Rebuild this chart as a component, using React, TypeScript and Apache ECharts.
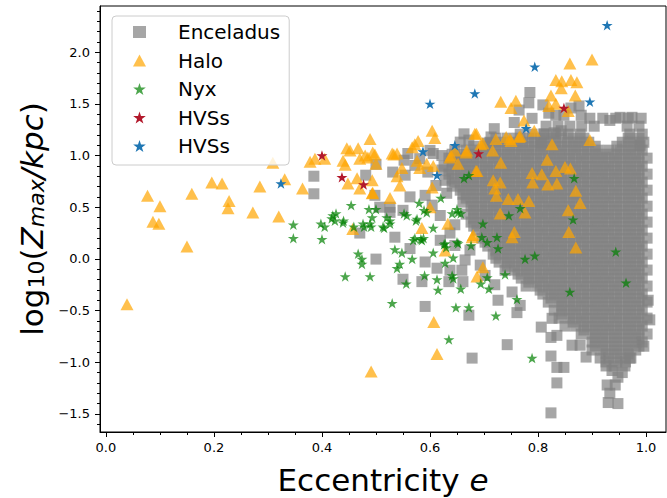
import React, { useEffect, useRef } from "react";
import * as echarts from "echarts";

// Axis ranges and tick positions
const X_MIN = -0.011;
const X_MAX = 1.037;
const Y_MIN = -1.675;
const Y_MAX = 2.447;
const xMajor = [0, 0.2, 0.4, 0.6, 0.8, 1.0];
const xMinor = [0.05, 0.1, 0.15, 0.25, 0.3, 0.35, 0.45, 0.5, 0.55, 0.65, 0.7, 0.75, 0.85, 0.9, 0.95];
const yMajor = [-1.5, -1.0, -0.5, 0, 0.5, 1.0, 1.5, 2.0];
const yMinor = [
  -1.6, -1.4, -1.3, -1.2, -1.1, -0.9, -0.8, -0.7, -0.6, -0.4, -0.3, -0.2, -0.1,
  0.1, 0.2, 0.3, 0.4, 0.6, 0.7, 0.8, 0.9, 1.1, 1.2, 1.3, 1.4, 1.6, 1.7, 1.8, 1.9,
  2.1, 2.2, 2.3, 2.4,
];

// Enceladus: the dense body of the cloud, one row of eccentricities per log10(Zmax)
const enceladusCore: [number, number[]][] = [
  [1.361, [0.896, 0.92, 0.944, 0.967, 0.991]],
  [1.284, [0.815, 0.837, 0.859, 0.881, 0.904, 0.965, 0.987]],
  [1.207, [0.767, 0.789, 0.811, 0.833, 0.856, 0.878, 0.97, 0.993]],
  [1.168, [0.722, 0.743, 0.763, 0.783, 0.804, 0.824, 0.844, 0.865, 0.885, 0.967, 0.987]],
  [1.129, [0.711, 0.731, 0.752, 0.772, 0.793, 0.813, 0.833, 0.854, 0.874, 0.894, 0.956, 0.976, 0.996]],
  [1.09, [0.681, 0.702, 0.722, 0.743, 0.763, 0.783, 0.804, 0.824, 0.844, 0.865, 0.885, 0.906, 0.946, 0.967, 0.987]],
  [1.052, [0.646, 0.667, 0.687, 0.707, 0.728, 0.748, 0.769, 0.789, 0.809, 0.83, 0.85, 0.87, 0.891, 0.911, 0.931, 0.952, 0.972, 0.993]],
  [1.013, [0.641, 0.661, 0.681, 0.702, 0.722, 0.743, 0.763, 0.783, 0.804, 0.824, 0.844, 0.865, 0.885, 0.906, 0.926, 0.946, 0.967, 0.987]],
  [0.975, [0.635, 0.656, 0.676, 0.696, 0.717, 0.737, 0.757, 0.778, 0.798, 0.819, 0.839, 0.859, 0.88, 0.9, 0.92, 0.941, 0.961, 0.981, 1.002]],
  [0.936, [0.641, 0.661, 0.681, 0.702, 0.722, 0.743, 0.763, 0.783, 0.804, 0.824, 0.844, 0.865, 0.885, 0.906, 0.926, 0.946, 0.967, 0.987]],
  [0.897, [0.626, 0.646, 0.667, 0.687, 0.707, 0.728, 0.748, 0.769, 0.789, 0.809, 0.83, 0.85, 0.87, 0.891, 0.911, 0.931, 0.952, 0.972, 0.993]],
  [0.858, [0.641, 0.661, 0.681, 0.702, 0.722, 0.743, 0.763, 0.783, 0.804, 0.824, 0.844, 0.865, 0.885, 0.906, 0.926, 0.946, 0.967, 0.987]],
  [0.82, [0.635, 0.656, 0.676, 0.696, 0.717, 0.737, 0.757, 0.778, 0.798, 0.819, 0.839, 0.859, 0.88, 0.9, 0.92, 0.941, 0.961, 0.981, 1.002]],
  [0.781, [0.641, 0.661, 0.681, 0.702, 0.722, 0.743, 0.763, 0.783, 0.804, 0.824, 0.844, 0.865, 0.885, 0.906, 0.926, 0.946, 0.967, 0.987]],
  [0.743, [0.646, 0.667, 0.687, 0.707, 0.728, 0.748, 0.769, 0.789, 0.809, 0.83, 0.85, 0.87, 0.891, 0.911, 0.931, 0.952, 0.972, 0.993]],
  [0.704, [0.641, 0.661, 0.681, 0.702, 0.722, 0.743, 0.763, 0.783, 0.804, 0.824, 0.844, 0.865, 0.885, 0.906, 0.926, 0.946, 0.967, 0.987]],
  [0.665, [0.656, 0.676, 0.696, 0.717, 0.737, 0.757, 0.778, 0.798, 0.819, 0.839, 0.859, 0.88, 0.9, 0.92, 0.941, 0.961, 0.981, 1.002]],
  [0.626, [0.661, 0.681, 0.702, 0.722, 0.743, 0.763, 0.783, 0.804, 0.824, 0.844, 0.865, 0.885, 0.906, 0.926, 0.946, 0.967, 0.987]],
  [0.588, [0.667, 0.687, 0.707, 0.728, 0.748, 0.769, 0.789, 0.809, 0.83, 0.85, 0.87, 0.891, 0.911, 0.931, 0.952, 0.972, 0.993]],
  [0.549, [0.661, 0.681, 0.702, 0.722, 0.743, 0.763, 0.783, 0.804, 0.824, 0.844, 0.865, 0.885, 0.906, 0.926, 0.946, 0.967, 0.987]],
  [0.51, [0.676, 0.696, 0.717, 0.737, 0.757, 0.778, 0.798, 0.819, 0.839, 0.859, 0.88, 0.9, 0.92, 0.941, 0.961, 0.981, 1.002]],
  [0.471, [0.681, 0.702, 0.722, 0.743, 0.763, 0.783, 0.804, 0.824, 0.844, 0.865, 0.885, 0.906, 0.926, 0.946, 0.967, 0.987]],
  [0.433, [0.667, 0.687, 0.707, 0.728, 0.748, 0.769, 0.789, 0.809, 0.83, 0.85, 0.87, 0.891, 0.911, 0.931, 0.952, 0.972, 0.993]],
  [0.394, [0.681, 0.702, 0.722, 0.743, 0.763, 0.783, 0.804, 0.824, 0.844, 0.865, 0.885, 0.906, 0.926, 0.946, 0.967, 0.987]],
  [0.356, [0.676, 0.696, 0.717, 0.737, 0.757, 0.778, 0.798, 0.819, 0.839, 0.859, 0.88, 0.9, 0.92, 0.941, 0.961, 0.981, 1.002]],
  [0.317, [0.681, 0.702, 0.722, 0.743, 0.763, 0.783, 0.804, 0.824, 0.844, 0.865, 0.885, 0.906, 0.926, 0.946, 0.967, 0.987]],
  [0.278, [0.687, 0.707, 0.728, 0.748, 0.769, 0.789, 0.809, 0.83, 0.85, 0.87, 0.891, 0.911, 0.931, 0.952, 0.972, 0.993]],
  [0.239, [0.702, 0.722, 0.743, 0.763, 0.783, 0.804, 0.824, 0.844, 0.865, 0.885, 0.906, 0.926, 0.946, 0.967, 0.987]],
  [0.201, [0.696, 0.717, 0.737, 0.757, 0.778, 0.798, 0.819, 0.839, 0.859, 0.88, 0.9, 0.92, 0.941, 0.961, 0.981, 1.002]],
  [0.162, [0.702, 0.722, 0.743, 0.763, 0.783, 0.804, 0.824, 0.844, 0.865, 0.885, 0.906, 0.926, 0.946, 0.967, 0.987]],
  [0.124, [0.707, 0.728, 0.748, 0.769, 0.789, 0.809, 0.83, 0.85, 0.87, 0.891, 0.911, 0.931, 0.952, 0.972, 0.993]],
  [0.085, [0.722, 0.743, 0.763, 0.783, 0.804, 0.824, 0.844, 0.865, 0.885, 0.906, 0.926, 0.946, 0.967, 0.987]],
  [0.046, [0.717, 0.737, 0.757, 0.778, 0.798, 0.819, 0.839, 0.859, 0.88, 0.9, 0.92, 0.941, 0.961, 0.981, 1.002]],
  [0.007, [0.722, 0.743, 0.763, 0.783, 0.804, 0.824, 0.844, 0.865, 0.885, 0.906, 0.926, 0.946, 0.967, 0.987]],
  [-0.031, [0.728, 0.748, 0.769, 0.789, 0.809, 0.83, 0.85, 0.87, 0.891, 0.911, 0.931, 0.952, 0.972, 0.993]],
  [-0.07, [0.743, 0.763, 0.783, 0.804, 0.824, 0.844, 0.865, 0.885, 0.906, 0.926, 0.946, 0.967, 0.987]],
  [-0.108, [0.757, 0.778, 0.798, 0.819, 0.839, 0.859, 0.88, 0.9, 0.92, 0.941, 0.961, 0.981, 1.002]],
  [-0.147, [0.763, 0.783, 0.804, 0.824, 0.844, 0.865, 0.885, 0.906, 0.926, 0.946, 0.967, 0.987]],
  [-0.186, [0.769, 0.789, 0.809, 0.83, 0.85, 0.87, 0.891, 0.911, 0.931, 0.952, 0.972, 0.993]],
  [-0.224, [0.783, 0.804, 0.824, 0.844, 0.865, 0.885, 0.906, 0.926, 0.946, 0.967, 0.987]],
  [-0.263, [0.778, 0.798, 0.819, 0.839, 0.859, 0.88, 0.9, 0.92, 0.941, 0.961, 0.981, 1.002]],
  [-0.302, [0.804, 0.824, 0.844, 0.865, 0.885, 0.906, 0.926, 0.946, 0.967, 0.987]],
  [-0.34, [0.809, 0.83, 0.85, 0.87, 0.891, 0.911, 0.931, 0.952, 0.972, 0.993]],
  [-0.379, [0.824, 0.844, 0.865, 0.885, 0.906, 0.926, 0.946, 0.967, 0.987]],
  [-0.418, [0.819, 0.839, 0.859, 0.88, 0.9, 0.92, 0.941, 0.961, 0.981, 1.002]],
  [-0.456, [0.844, 0.865, 0.885, 0.906, 0.926, 0.946, 0.967, 0.987]],
  [-0.495, [0.83, 0.85, 0.87, 0.891, 0.911, 0.931, 0.952, 0.972, 0.993]],
  [-0.534, [0.844, 0.865, 0.885, 0.906, 0.926, 0.946, 0.967, 0.987]],
  [-0.573, [0.839, 0.859, 0.88, 0.9, 0.92, 0.941, 0.961, 0.981, 1.002]],
  [-0.611, [0.865, 0.885, 0.906, 0.926, 0.946, 0.967, 0.987]],
  [-0.65, [0.85, 0.87, 0.891, 0.911, 0.931, 0.952, 0.972, 0.993]],
  [-0.688, [0.885, 0.906, 0.926, 0.946, 0.967, 0.987]],
  [-0.727, [0.88, 0.9, 0.92, 0.941, 0.961, 0.981, 1.002]],
  [-0.765, [0.906, 0.926, 0.946, 0.967, 0.987]],
  [-0.804, [0.9, 0.92, 0.941, 0.961, 0.981, 0.993]],
  [-0.843, [0.906, 0.926, 0.946, 0.967, 0.987]],
  [-0.882, [0.9, 0.92, 0.941, 0.961, 0.981]],
  [-0.92, [0.926, 0.946, 0.967]],
  [-0.959, [0.915, 0.931, 0.952, 0.972]],
  [-0.997, [0.926, 0.946, 0.962]],
  [-1.036, [0.926, 0.941, 0.961]],
];

// Enceladus: scattered members around the cloud
const enceladusOuter: [number, number][] = [
  [0.385, 0.8], [0.385, 0.63], [0.5, 0.915], [0.481, 0.81], [0.498, 0.615], [0.531, 0.84],
  [0.554, 0.81], [0.559, 1.02], [0.6, 1.05], [0.606, 1.02], [0.622, 1.0], [0.622, 0.86],
  [0.628, 0.76], [0.631, 0.635], [0.563, 0.6], [0.526, 0.5], [0.526, 0.45], [0.507, 0.5],
  [0.55, 0.47], [0.656, 1.13], [0.663, 1.21], [0.672, 1.15], [0.706, 1.12], [0.713, 1.18],
  [0.719, 1.26], [0.756, 1.32], [0.765, 1.44], [0.783, 1.51], [0.785, 1.61], [0.789, 1.36],
  [0.809, 1.49], [0.82, 1.41], [0.833, 1.39], [0.848, 1.39], [0.861, 1.46], [0.876, 1.48],
  [0.88, 1.39], [0.806, 1.12], [0.811, 1.21], [0.83, 1.22], [0.843, 1.24], [0.989, 1.1],
  [0.974, 1.37], [0.952, 1.37], [0.933, 1.34], [0.552, 0.955], [0.581, 0.97], [0.572, 0.905],
  [0.596, 0.84], [0.611, 0.71], [0.591, 0.615], [0.604, 0.52], [0.619, 0.42], [0.646, 0.33],
  [0.47, 0.25], [0.5, -0.002], [0.535, 0.21], [0.55, -0.197], [0.585, -0.22], [0.591, -0.46],
  [0.563, 0.1], [0.591, -0.03], [0.613, -0.09], [0.635, -0.22], [0.661, -0.22], [0.672, -0.545],
  [0.678, -0.96], [0.659, -0.11], [0.637, 0.25], [0.619, 0.18], [0.646, 0.13], [0.674, 0.085],
  [0.665, -0.01], [0.693, -0.06], [0.702, -0.16], [0.72, -0.25], [0.739, -0.11], [0.726, -0.4],
  [0.752, -0.32], [0.767, -0.45], [0.761, -0.52], [0.743, -0.83], [0.806, -0.66], [0.826, -0.575],
  [0.824, -0.76], [0.824, -0.94], [0.835, -1.05], [0.848, -1.05], [0.835, -0.74], [0.863, -0.835],
  [0.878, -0.835], [0.889, -0.95], [0.835, -1.2], [0.824, -1.49], [0.928, -1.22], [0.93, -1.39],
  [0.948, -1.4], [0.948, -1.145], [0.97, -0.96], [0.996, -0.845], [0.933, -1.3], [0.937, -1.08],
  [0.956, -1.1], [0.943, -1.22], [1.007, -0.59], [1.004, -0.4], [0.637, -0.11],
];

// Halo stars
const halo: [number, number][] = [
  [0.039, -0.44], [0.077, 0.61], [0.1, 0.51], [0.087, 0.36], [0.098, 0.34], [0.159, 0.63],
  [0.15, 0.12], [0.196, 0.74], [0.215, 0.73], [0.228, 0.56], [0.226, 0.49], [0.272, 0.45],
  [0.285, 0.7], [0.32, 0.41], [0.331, 0.77], [0.309, 0.93], [0.364, 0.68],
  [0.378, 0.94], [0.387, 0.97], [0.405, 0.97], [0.446, 1.07], [0.452, 1.05], [0.439, 0.95],
  [0.443, 0.91], [0.467, 1.07], [0.47, 0.97], [0.48, 1.0], [0.494, 1.03], [0.498, 1.01],
  [0.485, 0.98], [0.5, 0.92], [0.489, 1.16], [0.448, 0.73], [0.465, 0.78], [0.493, 0.76],
  [0.494, 0.64], [0.47, 0.68], [0.526, 0.59], [0.53, 1.02], [0.539, 1.02], [0.548, 0.88],
  [0.539, 0.8], [0.544, 0.71], [0.572, 1.11], [0.578, 1.14], [0.567, 1.08], [0.604, 1.24],
  [0.609, 1.17], [0.576, 0.95], [0.581, 0.88], [0.594, 0.92], [0.606, 0.9], [0.604, 0.69],
  [0.6, 0.5], [0.637, 0.98], [0.646, 1.05], [0.652, 0.92], [0.668, 1.05], [0.683, 1.21],
  [0.687, 0.85], [0.633, 0.34], [0.457, 0.29], [0.585, 0.3], [0.68, 0.23], [0.628, 0.08],
  [0.687, -0.17], [0.698, -0.08], [0.607, -0.61], [0.613, -0.92], [0.491, -1.09],
  [0.533, 1.01], [0.639, 1.0], [0.493, 0.635],
  [0.859, 1.89], [0.9, 1.93], [0.833, 1.73], [0.844, 1.72], [0.861, 1.73], [0.872, 1.71],
  [0.843, 1.65], [0.824, 1.58], [0.869, 1.58], [0.82, 1.48], [0.833, 1.5], [0.856, 1.43],
  [0.731, 1.52], [0.759, 1.53], [0.75, 1.46], [0.774, 1.34], [0.793, 1.24], [0.767, 1.19],
  [0.748, 1.16], [0.741, 1.18], [0.722, 1.16], [0.698, 1.12], [0.716, 1.05], [0.694, 1.11],
  [0.686, 1.21], [0.765, 1.18], [0.75, 1.14], [0.667, 1.03], [0.826, 1.11], [0.896, 1.15],
  [0.731, 0.93], [0.685, 0.85], [0.817, 0.96], [0.789, 0.83], [0.807, 0.82], [0.833, 0.85],
  [0.85, 0.89], [0.86, 0.875], [0.79, 0.74], [0.818, 0.72], [0.835, 0.73], [0.87, 0.66],
  [0.878, 0.54], [0.717, 0.76], [0.73, 0.74], [0.72, 0.68], [0.723, 0.61], [0.745, 0.58],
  [0.763, 0.58], [0.783, 0.56], [0.73, 0.44], [0.776, 0.45], [0.856, 0.47], [0.756, 0.26],
  [0.752, 0.21], [0.857, 0.26], [0.87, 0.11], [0.678, 0.21],
];

// Nyx stream members
const nyx: [number, number][] = [
  [0.347, 0.33], [0.347, 0.2], [0.398, 0.34], [0.405, 0.31], [0.4, 0.19], [0.418, 0.39],
  [0.439, 0.35], [0.476, 0.34], [0.489, 0.34], [0.467, 0.05], [0.474, 0.0], [0.474, -0.05],
  [0.443, -0.17], [0.489, -0.17], [0.526, 0.34], [0.513, 0.31], [0.535, 0.09], [0.548, 0.06],
  [0.567, 0.0], [0.544, -0.05], [0.539, -0.09], [0.556, -0.24], [0.53, -0.43], [0.569, 0.18],
  [0.585, 0.18], [0.588, 0.2], [0.606, 0.3], [0.606, 0.06], [0.59, -0.16], [0.613, -0.2],
  [0.615, -0.3], [0.628, -0.04], [0.628, 0.15], [0.63, 0.11], [0.643, 0.01], [0.641, -0.16],
  [0.643, -0.19], [0.652, 0.15], [0.657, -0.29], [0.648, -0.47], [0.672, -0.47], [0.676, 0.13],
  [0.635, -0.78], [0.694, -0.24], [0.709, -0.29], [0.722, -0.55], [0.739, -0.15], [0.761, -0.39],
  [0.776, 0.0], [0.794, 0.03], [0.789, -0.96], [0.859, -0.32], [0.963, -0.23], [0.944, 0.07],
  [0.724, 0.21], [0.726, 0.1], [0.706, 0.16], [0.698, 0.34], [0.706, -0.18], [0.696, 0.21],
  [0.867, 0.78], [0.767, 0.49], [0.746, 0.42], [0.865, 0.38], [0.663, 0.78], [0.672, 0.81],
  [0.62, 0.59], [0.454, 0.52], [0.426, 0.44], [0.44, 0.37], [0.487, 0.48], [0.5, 0.48],
  [0.58, 0.54], [0.589, 0.47], [0.552, 0.44], [0.574, 0.37], [0.526, 0.37], [0.515, 0.3],
  [0.491, 0.31], [0.478, 0.31], [0.459, 0.31], [0.65, 0.48], [0.641, 0.44], [0.657, 0.44],
  [0.572, 0.2], [0.583, 0.19], [0.626, 0.14], [0.65, 0.16], [0.42, 0.42], [0.424, 0.37],
  [0.493, 0.4], [0.52, 0.4], [0.557, 0.42], [0.576, 0.385], [0.594, 0.45], [0.652, 0.45],
];

// Hypervelocity stars (two samples)
const hvsRed: [number, number][] = [
  [0.4, 1.0], [0.437, 0.79], [0.477, 0.72], [0.69, 1.02], [0.848, 1.46],
];
const hvsBlue: [number, number][] = [
  [0.928, 2.26], [0.794, 1.86], [0.683, 1.6], [0.6, 1.5], [0.896, 1.52],
  [0.778, 1.265], [0.646, 1.1], [0.587, 1.04], [0.324, 0.73], [0.613, 0.81],
];

const FONT = "DejaVu Sans";

// five-pointed star marker (outer radius 100, inner 38.2)
const STAR =
  "path://M0,-100L22.45,-30.9L95.11,-30.9L36.33,11.8L58.78,80.9L0,38.2L-58.78,80.9L-36.33,11.8L-95.11,-30.9L-22.45,-30.9Z";

const fmtTick = (v: number) => (v < 0 ? "\u2212" + Math.abs(v).toFixed(1) : v.toFixed(1));

export default function App() {
  const ref = useRef<HTMLDivElement>(null);

  useEffect(() => {
    if (!ref.current) return;
    const chart = echarts.init(ref.current, undefined, { renderer: "svg" });

    const enceladus: [number, number][] = [];
    enceladusCore.forEach(([y, xs]) => xs.forEach((x) => enceladus.push([x, y])));
    enceladusOuter.forEach((p) => enceladus.push(p));

    const axisLineStyle = { color: "#000", width: 1 };
    const nameRich = {
      n: { fontSize: 31, fontFamily: FONT, color: "#000", lineHeight: 40, verticalAlign: "bottom" },
      i: { fontSize: 31, fontFamily: FONT, color: "#000", fontStyle: "italic", lineHeight: 40, verticalAlign: "bottom" },
      s: { fontSize: 22, fontFamily: FONT, color: "#000", lineHeight: 24, verticalAlign: "bottom" },
      si: { fontSize: 22, fontFamily: FONT, color: "#000", fontStyle: "italic", lineHeight: 24, verticalAlign: "bottom" },
    };

    chart.setOption({
      animation: false,
      backgroundColor: "#fff",
      grid: {
        left: 100,
        right: 1,
        top: 6,
        bottom: 66,
        outerBoundsMode: "none",
        containLabel: false,
        show: true,
        borderColor: "#000",
        borderWidth: 1,
        backgroundColor: "transparent",
      },
      legend: {
        orient: "vertical",
        left: 112,
        top: 16,
        itemWidth: 13,
        itemHeight: 12,
        itemGap: 8.5,
        padding: [6, 9, 9, 21],
        backgroundColor: "rgba(255,255,255,0.8)",
        borderColor: "#cccccc",
        borderWidth: 1,
        borderRadius: 4,
        data: ["Enceladus", "Halo", "Nyx", "HVSs", "HVSs "],
        formatter: (name: string) => `{t|${name.trim()}}`,
        textStyle: {
          rich: {
            t: { fontSize: 20, fontFamily: FONT, color: "#000", lineHeight: 22, padding: [0, 0, 0, 27] },
          },
        },
      },
      xAxis: [
        {
          type: "value",
          min: X_MIN,
          max: X_MAX,
          position: "bottom",
          axisLine: { show: true, onZero: false, lineStyle: axisLineStyle },
          axisTick: { show: true, inside: false, length: 5, customValues: xMajor, lineStyle: axisLineStyle },
          axisLabel: {
            customValues: xMajor,
            formatter: fmtTick,
            fontSize: 13,
            fontFamily: FONT,
            color: "#000",
            margin: 9,
          },
          splitLine: { show: false },
          name: "{n|Eccentricity }{i|e}",
          nameLocation: "middle",
          nameGap: 23,
          nameTextStyle: { rich: nameRich },
        },
        {
          type: "value",
          min: X_MIN,
          max: X_MAX,
          position: "bottom",
          axisLine: { show: false, onZero: false },
          axisTick: { show: true, inside: false, length: 3, customValues: xMinor, lineStyle: axisLineStyle },
          axisLabel: { show: false },
          splitLine: { show: false },
        },
      ],
      yAxis: [
        {
          type: "value",
          min: Y_MIN,
          max: Y_MAX,
          position: "left",
          axisLine: { show: true, onZero: false, lineStyle: axisLineStyle },
          axisTick: { show: true, inside: false, length: 5, customValues: yMajor, lineStyle: axisLineStyle },
          axisLabel: {
            customValues: yMajor,
            formatter: fmtTick,
            fontSize: 13,
            fontFamily: FONT,
            color: "#000",
            margin: 10,
          },
          splitLine: { show: false },
          name: "{n|log}{s|10}{n|(}{i|Z}{si|max}{i|/kpc}{n|)}",
          nameLocation: "middle",
          nameGap: 38,
          nameTextStyle: { rich: nameRich },
        },
        {
          type: "value",
          min: Y_MIN,
          max: Y_MAX,
          position: "left",
          axisLine: { show: false, onZero: false },
          axisTick: { show: true, inside: false, length: 3, customValues: yMinor, lineStyle: axisLineStyle },
          axisLabel: { show: false },
          splitLine: { show: false },
        },
      ],
      series: [
        {
          name: "Enceladus",
          type: "scatter",
          data: enceladus,
          symbol: "rect",
          symbolSize: 11,
          itemStyle: { color: "#808080", opacity: 0.7 },
          silent: true,
          progressive: 0,
        },
        {
          name: "Halo",
          type: "scatter",
          data: halo,
          symbol: "triangle",
          symbolSize: [13, 12],
          itemStyle: { color: "#FFA500", opacity: 0.7 },
          silent: true,
        },
        {
          name: "Nyx",
          type: "scatter",
          data: nyx,
          symbol: STAR,
          symbolSize: [11, 10.5],
          itemStyle: { color: "#008000", opacity: 0.7 },
          silent: true,
        },
        {
          name: "HVSs",
          type: "scatter",
          data: hvsRed,
          symbol: STAR,
          symbolSize: [11, 10.5],
          itemStyle: { color: "#b2182b", opacity: 1 },
          silent: true,
        },
        {
          name: "HVSs ",
          type: "scatter",
          data: hvsBlue,
          symbol: STAR,
          symbolSize: [11, 10.5],
          itemStyle: { color: "#1f77b4", opacity: 1 },
          silent: true,
        },
      ],
    });

    return () => chart.dispose();
  }, []);

  return (
    <div
      ref={ref}
      style={{ position: "fixed", left: 0, top: 0, width: 667, height: 498, background: "#fff" }}
    />
  );
}
